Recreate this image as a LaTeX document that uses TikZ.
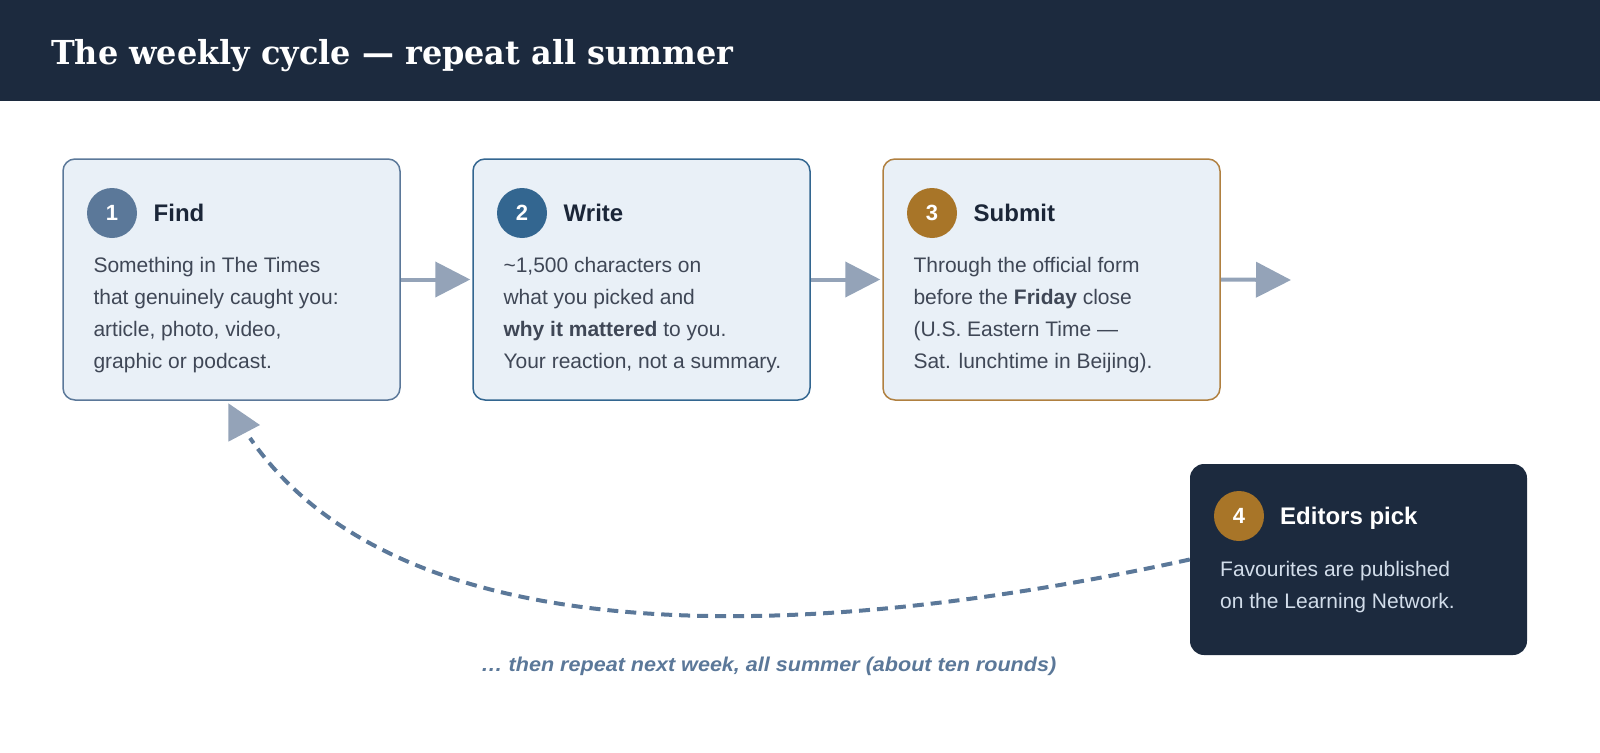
\documentclass[tikz,border=0pt]{standalone}
\usepackage{fontspec}
\setmainfont{Liberation Sans}
\newfontfamily\titlefont{DejaVu Serif}
\usetikzlibrary{arrows.meta}
\definecolor{navy}{HTML}{1C2A3E}
\definecolor{boxfill}{HTML}{E9F0F7}
\definecolor{slateA}{HTML}{5B7899}
\definecolor{blueB}{HTML}{336690}
\definecolor{gold}{HTML}{A87528}
\definecolor{goldline}{HTML}{B08040}
\definecolor{arrowgray}{HTML}{94A3B8}
\definecolor{bodytext}{HTML}{3F4756}
\definecolor{headtext}{HTML}{1B2638}
\definecolor{lighttext}{HTML}{D2DDEA}
\begin{document}
\begin{tikzpicture}[x=1pt,y=-1pt,
  stepbox/.style={draw, line width=1.5pt, fill=boxfill, rounded corners=12pt,
    minimum width=337pt, minimum height=241pt, inner sep=0pt},
  numdot/.style={circle, minimum size=50pt, inner sep=0pt, text=white,
    font=\bfseries\fontsize{22}{22}\selectfont},
  steptitle/.style={anchor=base west, inner sep=0pt, text=headtext,
    font=\bfseries\fontsize{24}{24}\selectfont},
  bodyline/.style={anchor=base west, inner sep=0pt, text=bodytext,
    font=\fontsize{21}{21}\selectfont},
  flow/.style={draw=arrowgray, line width=4pt,
    -{Triangle[length=35pt,width=35pt]}, arrowgray},
  loopline/.style={draw=slateA, line width=4pt, dash pattern=on 11pt off 7pt}
]
\useasboundingbox (0,0) rectangle (1600,752);
% header band
\fill[navy] (0,0) rectangle (1600,101);
\node[anchor=base west, inner sep=0pt, text=white] (title) at (51,65)
  {\resizebox{682pt}{\height}{\titlefont\bfseries\fontsize{33}{40}\selectfont The weekly cycle — repeat all summer}};

% step 1
\node[stepbox, draw=slateA] (box1) at (231.5,279.5) {};
\node[numdot, fill=slateA] (n1) at (112,213) {1};
\node[steptitle] (t1) at (153.5,221) {Find};
\node[bodyline] (b1a) at (93.3,272.5) {Something in The Times};
\node[bodyline] (b1b) at (93.3,304.5) {that genuinely caught you:};
\node[bodyline] (b1c) at (93.3,336.5) {article, photo, video,};
\node[bodyline] (b1d) at (93.3,368.5) {graphic or podcast.};

% step 2
\node[stepbox, draw=blueB] (box2) at (641.5,279.5) {};
\node[numdot, fill=blueB] (n2) at (522,213) {2};
\node[steptitle] (t2) at (563.5,221) {Write};
\node[bodyline] (b2a) at (503.3,272.5) {\char"007E 1,500 characters on};
\node[bodyline] (b2b) at (503.3,304.5) {what you picked and};
\node[bodyline] (b2c) at (503.3,336.5) {\textbf{why it mattered} to you.};
\node[bodyline] (b2d) at (503.3,368.5) {Your reaction, not a summary.};

% step 3
\node[stepbox, draw=goldline] (box3) at (1051.5,279.5) {};
\node[numdot, fill=gold] (n3) at (932,213) {3};
\node[steptitle] (t3) at (973.5,221) {Submit};
\node[bodyline] (b3a) at (913.3,272.5) {Through the official form};
\node[bodyline] (b3b) at (913.3,304.5) {before the \textbf{Friday} close};
\node[bodyline] (b3c) at (913.3,336.5) {(U.S. Eastern Time —};
\node[bodyline] (b3d) at (913.3,368.5) {Sat. lunchtime in Beijing).};

% step 4
\node[fill=navy, rounded corners=14pt, minimum width=337pt, minimum height=191pt,
  inner sep=0pt] (box4) at (1358.5,559.5) {};
\node[numdot, fill=gold] (n4) at (1239,516) {4};
\node[steptitle, text=white] (t4) at (1280,524) {Editors pick};
\node[bodyline, text=lighttext] (b4a) at (1220,576) {Favourites are published};
\node[bodyline, text=lighttext] (b4b) at (1220,608) {on the Learning Network.};

% forward arrows
\coordinate (out3) at (1291,280);
\draw[flow, shorten >=2pt] (box1.east) -- (box2.west);
\draw[flow, shorten >=2pt] (box2.east) -- (box3.west);
\draw[flow] (box3.east) -- (out3);

% loop back
\coordinate (loopend) at (250,438);
\draw[loopline] (box4.west) .. controls (800,645) and (400,655) .. (loopend);
\fill[arrowgray] (228.3,403.3) -- (260,425) -- (228.3,441.7) -- cycle;

% caption
\node[anchor=base west, inner sep=0pt, text=slateA] (caption) at (481,671.7)
  {\resizebox{575pt}{\height}{\bfseries\itshape\fontsize{20}{24}\selectfont … then repeat next week, all summer (about ten rounds)}};
\end{tikzpicture}
\end{document}
